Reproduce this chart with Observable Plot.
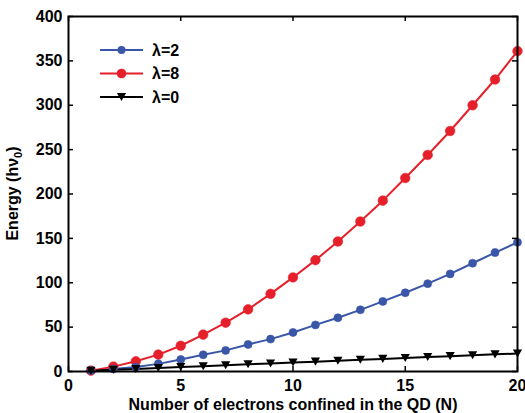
<!DOCTYPE html>
<html>
<head>
<meta charset="utf-8">
<script src="https://cdn.jsdelivr.net/npm/d3@7"></script>
<script src="https://cdn.jsdelivr.net/npm/@observablehq/plot@0.6"></script>
<style>
  html, body { margin: 0; padding: 0; background: #fff; }
  #chart { width: 525px; height: 413px; overflow: hidden; }
</style>
</head>
<body>
<div id="chart"></div>
<script>
// Number of confined electrons
const electrons = [1, 2, 3, 4, 5, 6, 7, 8, 9, 10, 11, 12, 13, 14, 15, 16, 17, 18, 19, 20];

// Ground-state energy (in units of hν0) for each interaction strength
const energyL2 = [1, 2.8, 5, 8.6, 13.5, 18.8, 23.8, 30.5, 36.5, 44, 52.5, 60.5, 69.5, 79, 88.7, 99, 110, 122, 134, 145.5];
const energyL8 = [1, 5.5, 11.5, 19, 29, 41.5, 55, 70, 87.5, 106, 125.5, 146.5, 169, 192.5, 218, 244, 271, 300, 329, 361];
const energyL0 = [0.9, 1.9, 2.9, 3.9, 5, 6, 7, 8.1, 9.1, 10.1, 11.1, 12.2, 13.2, 14.2, 15.2, 16.3, 17.3, 18.3, 19.3, 20.2];

const seriesNames = ["λ=2", "λ=8", "λ=0"];
const seriesColors = ["#3a56a8", "#e6202a", "#000000"];

const xTicks = [0, 5, 10, 15, 20];
const yTicks = [0, 50, 100, 150, 200, 250, 300, 350, 400];

const xTitle = "Number of electrons confined in the QD (N)";

// Long-format table built from the arrays above
const seriesValues = [energyL2, energyL8, energyL0];
const rows = seriesNames.flatMap((name, i) =>
  electrons.map((n, j) => ({N: n, E: seriesValues[i][j], series: name}))
);

// Downward-pointing triangle marker
const triangleDown = {
  draw(context, size) {
    const w = Math.sqrt(size) * 1.15;
    const h = w * 0.88;
    context.moveTo(-w / 2, -h / 2);
    context.lineTo(w / 2, -h / 2);
    context.lineTo(0, h / 2);
    context.closePath();
  }
};

const W = 525, H = 413;
const mL = 68, mR = 8, mT = 16, mB = 42;
const frameW = W - mL - mR, frameH = H - mT - mB;
const tickLen = 5;
const font = "'Liberation Sans', Arial, sans-serif";

const byName = name => rows.filter(d => d.series === name);

const chart = Plot.plot({
  width: W,
  height: H,
  marginLeft: mL,
  marginRight: mR,
  marginTop: mT,
  marginBottom: mB,
  x: {domain: [0, 20]},
  y: {domain: [0, 400]},
  color: {domain: seriesNames, range: seriesColors},
  style: {fontFamily: font, fontWeight: "bold", fontSize: "16px", background: "#fff", color: "#000"},
  marks: [
    Plot.axisX(xTicks, {tickSize: 0, tickPadding: 8, label: null, fontSize: 16}),
    Plot.axisY(yTicks, {tickSize: 0, tickPadding: 6, label: null, fontSize: 16}),
    Plot.line(rows, {x: "N", y: "E", z: "series", stroke: "series", strokeWidth: 2}),
    Plot.dot(byName("λ=8"), {x: "N", y: "E", r: 4.8, fill: seriesColors[1], stroke: seriesColors[1], strokeWidth: 0.6}),
    Plot.dot(byName("λ=2"), {x: "N", y: "E", r: 4, fill: seriesColors[0], stroke: seriesColors[0], strokeWidth: 0.6}),
    Plot.dot(byName("λ=0"), {x: "N", y: "E", r: 4.5, symbol: triangleDown, fill: "#000", stroke: "none"}),
    // inward ticks on all four sides
    Plot.tickX(xTicks, {x: d => d, insetTop: frameH - tickLen, stroke: "#000", strokeWidth: 1.5}),
    Plot.tickX(xTicks, {x: d => d, insetBottom: frameH - tickLen, stroke: "#000", strokeWidth: 1.5}),
    Plot.tickY(yTicks, {y: d => d, insetRight: frameW - tickLen, stroke: "#000", strokeWidth: 1.5}),
    Plot.tickY(yTicks, {y: d => d, insetLeft: frameW - tickLen, stroke: "#000", strokeWidth: 1.5}),
    Plot.frame({stroke: "#000", strokeWidth: 2}),
    Plot.text([xTitle], {frameAnchor: "bottom", dy: 38, fontSize: 16, fontWeight: "bold", fill: "#000"})
  ]
});

const svg = d3.select(chart);

// y-axis title with subscript
const yTitle = svg.append("text")
  .attr("transform", `translate(18,${mT + frameH / 2}) rotate(-90)`)
  .attr("text-anchor", "middle")
  .attr("font-family", font)
  .attr("font-weight", "bold")
  .attr("font-size", 16)
  .attr("fill", "#000");
yTitle.append("tspan").text("Energy (hν");
yTitle.append("tspan").attr("font-size", 11).attr("dy", 4).text("0");
yTitle.append("tspan").attr("dy", -4).text(")");

// Legend
const legendSymbols = [d3.symbolCircle, d3.symbolCircle, triangleDown];
const legendSizes = [Math.PI * 16, Math.PI * 23, Math.PI * 20.25];
const legend = svg.append("g")
  .attr("font-family", font)
  .attr("font-weight", "bold")
  .attr("font-size", 16)
  .attr("text-anchor", "start");
seriesNames.forEach((name, i) => {
  const g = legend.append("g").attr("transform", `translate(100,${50 + i * 23.5})`);
  g.append("line").attr("x1", 0).attr("x2", 43).attr("stroke", seriesColors[i]).attr("stroke-width", 2);
  g.append("path").attr("transform", "translate(21.5,0)")
    .attr("d", d3.symbol(legendSymbols[i], legendSizes[i])())
    .attr("fill", seriesColors[i]);
  g.append("text").attr("x", 52).attr("dy", "0.35em").attr("fill", "#000").text(name);
});

document.getElementById("chart").appendChild(chart);
</script>
</body>
</html>
